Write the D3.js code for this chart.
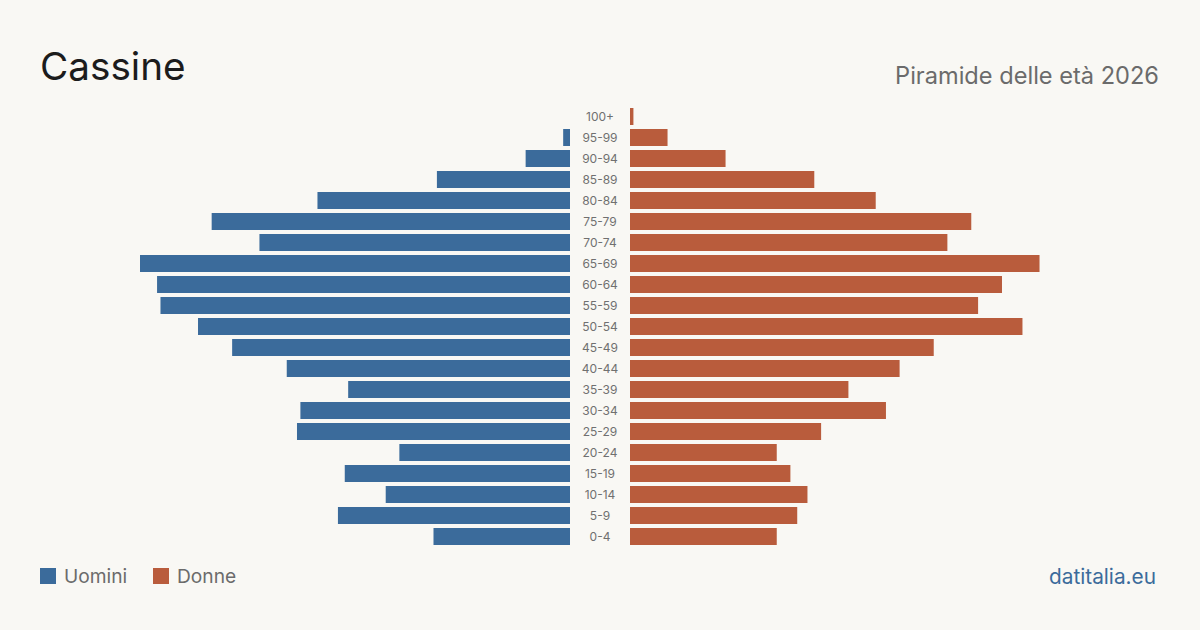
<!DOCTYPE html>
<html>
<head>
<meta charset="utf-8">
<script src="https://cdn.jsdelivr.net/npm/d3@7"></script>
<style>
  body { margin: 0; background: #f9f8f4; }
  svg { display: block; font-family: Inter, "Noto Sans", sans-serif; }
</style>
</head>
<body>
<svg id="chart"></svg>
<script>
// age groups, top to bottom
var ageGroups = ["100+", "95-99", "90-94", "85-89", "80-84", "75-79", "70-74", "65-69", "60-64", "55-59",
  "50-54", "45-49", "40-44", "35-39", "30-34", "25-29", "20-24", "15-19", "10-14", "5-9", "0-4"];
var uomini = [0, 2, 13, 39, 74, 105, 91, 126, 121, 120, 109, 99, 83, 65, 79, 80, 50, 66, 54, 68, 40];
var donne = [1, 11, 28, 54, 72, 100, 93, 120, 109, 102, 115, 89, 79, 64, 75, 56, 43, 47, 52, 49, 43];

var width = 1200;
var height = 630;
var center = 600;
var gap = 30;
var halfWidth = 430;

var svg = d3.select("#chart")
  .attr("width", width)
  .attr("height", height);

svg.append("rect")
  .attr("width", width)
  .attr("height", height)
  .attr("fill", "#f9f8f4");

var yScale = d3.scaleBand()
  .domain(ageGroups)
  .range([104, 549])
  .padding(4 / 21);

var maxVal = d3.max(uomini.concat(donne));
var xScale = d3.scaleLinear().domain([0, maxVal]).range([0, halfWidth]);

var rows = ageGroups.map(function(g, i) {
  return { age: g, m: uomini[i], f: donne[i] };
});

svg.append("g").selectAll("rect")
  .data(rows)
  .enter()
  .append("rect")
  .attr("x", function(d) { return center - gap - xScale(d.m); })
  .attr("y", function(d) { return yScale(d.age); })
  .attr("width", function(d) { return xScale(d.m); })
  .attr("height", yScale.bandwidth())
  .attr("fill", "#3b6b9b");

svg.append("g").selectAll("rect")
  .data(rows)
  .enter()
  .append("rect")
  .attr("x", center + gap)
  .attr("y", function(d) { return yScale(d.age); })
  .attr("width", function(d) { return Math.max(xScale(d.f), 3); })
  .attr("height", yScale.bandwidth())
  .attr("fill", "#b95c3c");

svg.append("g").selectAll("text")
  .data(rows)
  .enter()
  .append("text")
  .attr("x", center)
  .attr("y", function(d) { return yScale(d.age) + yScale.bandwidth() / 2; })
  .attr("dy", "0.35em")
  .attr("text-anchor", "middle")
  .attr("font-size", 12)
  .attr("fill", "#707070")
  .text(function(d) { return d.age; });

// titles
svg.append("text")
  .attr("x", 40)
  .attr("y", 80)
  .attr("font-size", 38.7)
  .attr("fill", "#1c1c1c")
  .text("Cassine");

svg.append("text")
  .attr("x", 1159)
  .attr("y", 84)
  .attr("text-anchor", "end")
  .attr("font-size", 23.6)
  .attr("fill", "#6b6b6b")
  .text("Piramide delle età 2026");

// legend
var legend = [
  { label: "Uomini", color: "#3b6b9b", x: 40 },
  { label: "Donne", color: "#b95c3c", x: 153 }
];
var lg = svg.append("g").selectAll("g")
  .data(legend)
  .enter()
  .append("g")
  .attr("transform", function(d) { return "translate(" + d.x + ",568)"; });
lg.append("rect")
  .attr("width", 16)
  .attr("height", 16)
  .attr("fill", function(d) { return d.color; });
lg.append("text")
  .attr("x", 24)
  .attr("y", 15)
  .attr("font-size", 19.2)
  .attr("fill", "#6b6b6b")
  .text(function(d) { return d.label; });

svg.append("text")
  .attr("x", 1156)
  .attr("y", 584)
  .attr("text-anchor", "end")
  .attr("font-size", 20.8)
  .attr("fill", "#3b6b9b")
  .text("datitalia.eu");
</script>
</body>
</html>
